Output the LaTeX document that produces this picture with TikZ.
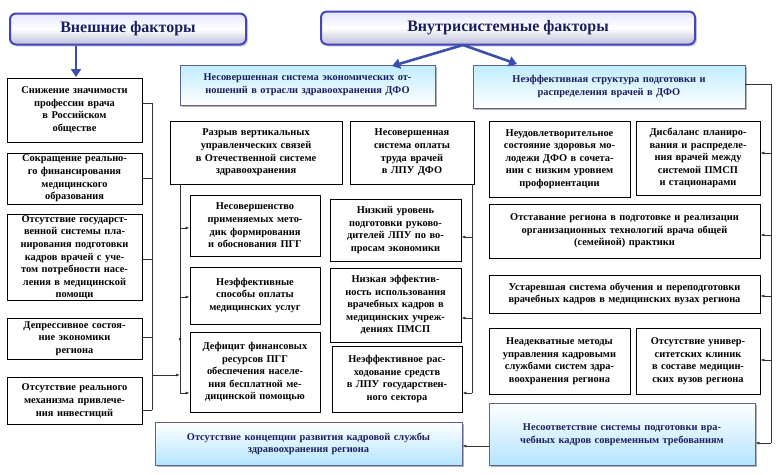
\documentclass[tikz,border=0pt]{standalone}
\usepackage{fontspec}
\setmainfont{Liberation Serif}[BoldFont={Liberation Serif Bold}]
\usetikzlibrary{arrows.meta,shadows}
\definecolor{navy}{HTML}{1C1F5E}
\definecolor{arrb}{HTML}{3A4FB0}
\begin{document}
\begin{tikzpicture}[x=1pt,y=-1pt,
 bx/.style={draw=black,line width=0.8pt,fill=white,align=center,inner sep=1pt,
   font=\bfseries\fontsize{10.4}{12.6}\selectfont},
 gbx/.style={bx,draw=navy!70,text=navy,drop shadow={shadow xshift=2pt,shadow yshift=-2pt,fill=black!60}},
 gtop/.style={gbx,top color=blue!30!cyan!25,bottom color=white},
 gbot/.style={gbx,top color=white,bottom color=blue!35!cyan!30},
 hdr/.style={draw=blue!45!gray,line width=2pt,rounded corners=6pt,top color=blue!10,bottom color=blue!30!gray!40,
   middle color=white,text=navy,font=\bfseries\fontsize{16}{18}\selectfont,
   drop shadow={shadow xshift=2pt,shadow yshift=-2pt,fill=black!35}},
 ln/.style={line width=0.7pt,black!80},
 ar/.style={ln,-{Latex[length=4pt,width=3pt]}},
 bar/.style={line width=2.6pt,arrb,-{Triangle[length=8pt,width=10pt]}}]
\useasboundingbox (0,0) rectangle (781,474);
% headers
\node[hdr,minimum width=236,minimum height=31] (h1) at (128,29) {Внешние факторы};
\node[hdr,minimum width=374,minimum height=33] (h2) at (508,28) {Внутрисистемные факторы};
% left column
\node[bx,minimum width=135,minimum height=64,text width=131] (b1) at (74.5,110) {Снижение значимости\\профессии врача\\в Российском\\обществе};
\node[bx,minimum width=135,minimum height=51,text width=131] (b2) at (74.5,178.5) {Сокращение реально-\\го финансирования\\медицинского\\образования};
\node[bx,minimum width=135,minimum height=81,text width=133] (b3) at (74.5,257.5) {Отсутствие государст-\\венной системы пла-\\нирования подготовки\\кадров врачей с уче-\\том потребности насе-\\ления в медицинской\\помощи};
\node[bx,minimum width=135,minimum height=41,text width=131] (b4) at (74.5,338.5) {Депрессивное состоя-\\ние экономики\\региона};
\node[bx,minimum width=135,minimum height=47,text width=131] (b5) at (74.5,401) {Отсутствие реального\\механизма привлече-\\ния инвестиций};
% middle top
\node[gtop,minimum width=255,minimum height=40,text width=251] (e1) at (307.5,85) {Несовершенная система экономических от-\\ношений в отрасли здравоохранения ДФО};
\node[gtop,minimum width=272,minimum height=43,text width=268] (e2) at (609,86.5) {Неэффективная структура подготовки и\\распределения врачей в ДФО};
\node[bx,minimum width=172,minimum height=63,text width=168] (m1) at (256,152.5) {Разрыв вертикальных\\управленческих связей\\в Отечественной системе\\здравоохранения};
\node[bx,minimum width=124,minimum height=63,text width=120] (m2) at (412,152.5) {Несовершенная\\система оплаты\\труда врачей\\в ЛПУ ДФО};
\node[bx,minimum width=130,minimum height=61,text width=126] (m3) at (255,225.5) {Несовершенство\\применяемых мето-\\дик формирования\\и обоснования ПГГ};
\node[bx,minimum width=130,minimum height=57,text width=126] (m4) at (255,295.5) {Неэффективные\\способы оплаты\\медицинских услуг};
\node[bx,minimum width=130,minimum height=80,text width=126] (m5) at (255,372) {Дефицит финансовых\\ресурсов ПГГ\\обеспечения населе-\\ния бесплатной ме-\\дицинской помощью};
\node[bx,minimum width=131,minimum height=62,text width=127] (m6) at (395.5,230) {Низкий уровень\\подготовки руково-\\дителей ЛПУ по во-\\просам экономики};
\node[bx,minimum width=131,minimum height=74,text width=127] (m7) at (395.5,305) {Низкая эффектив-\\ность использования\\врачебных кадров в\\медицинских учреж-\\дениях ПМСП};
\node[bx,minimum width=130,minimum height=66,text width=126] (m8) at (397,379) {Неэффективное рас-\\ходование средств\\в ЛПУ государствен-\\ного сектора};
% right
\node[bx,minimum width=141,minimum height=76,text width=137] (r1) at (559.5,159) {Неудовлетворительное\\состояние здоровья мо-\\лодежи ДФО в сочета-\\нии с низким уровнем\\профориентации};
\node[bx,minimum width=124,minimum height=74,text width=120] (r2) at (698,158) {Дисбаланс планиро-\\вания и распределе-\\ния врачей между\\системой ПМСП\\и стационарами};
\node[bx,minimum width=271,minimum height=54,text width=267] (r3) at (624.5,231) {Отставание региона в подготовке и реализации\\организационных технологий врача общей\\(семейной) практики};
\node[bx,minimum width=271,minimum height=38,text width=267] (r4) at (624.5,294) {Устаревшая система обучения и переподготовки\\врачебных кадров в медицинских вузах региона};
\node[bx,minimum width=141,minimum height=66,text width=137] (r5) at (559.5,361) {Неадекватные методы\\управления кадровыми\\службами систем здра-\\воохранения региона};
\node[bx,minimum width=124,minimum height=66,text width=120] (r6) at (698,361) {Отсутствие универ-\\ситетских клиник\\в составе медицин-\\ских вузов региона};
\node[gbot,minimum width=266,minimum height=62,text width=262,anchor=north] (r7) at (622,403) {Несоответствие системы подготовки вра-\\чебных кадров современным требованиям\\[10pt]};
\node[gbot,minimum width=307,minimum height=43,text width=303,anchor=north] (c) at (308.5,422) {Отсутствие концепции развития кадровой службы\\здравоохранения региона\\[6pt]};
% header arrows
\coordinate (hp) at (463,45);
\draw[bar] (h1.south -| 76,0) -- (76,77);
\draw[bar] (hp) -- (392,66);
\draw[bar] (hp) -- (517,64);
% left spine
\draw[ln] (152,103) -- (152,410);
\foreach \n/\y in {b1/103,b2/178,b3/259,b4/337,b5/410}{\draw[ln] (\n.east |- 0,\y) -- (152,\y);}
\draw[ar] (152,375) -- (180,375);
% middle-left spine
\draw[ln] (180,184) -- (180,393);
\draw[ar] (180,300) -- (180,342);
\draw[ar] (180,228) -- (m3.west |- 0,228);
\draw[ar] (180,297) -- (m4.west |- 0,297);
\draw[ar] (180,393) -- (m5.west |- 0,393);
% middle-right spine
\draw[ln] (m2.south -| 472,0) -- (472,393);
\draw[ar] (472,237) -- (m6.east |- 0,237);
\draw[ar] (472,318) -- (m7.east |- 0,318);
\draw[ar] (472,393) -- (m8.east |- 0,393);
% right spine
\draw[ln] (e2.east |- 0,84) -- (771,84) -- (771,443);
\draw[ar] (771,153) -- (r2.east |- 0,153);
\draw[ar] (771,235) -- (r3.east |- 0,235);
\draw[ar] (771,296) -- (r4.east |- 0,296);
\draw[ar] (771,360) -- (r6.east |- 0,360);
\draw[ar] (771,443) -- (r7.east |- 0,443);
\draw[ar] (r7.west |- 0,446) -- (c.east |- 0,446);
\end{tikzpicture}
\end{document}
